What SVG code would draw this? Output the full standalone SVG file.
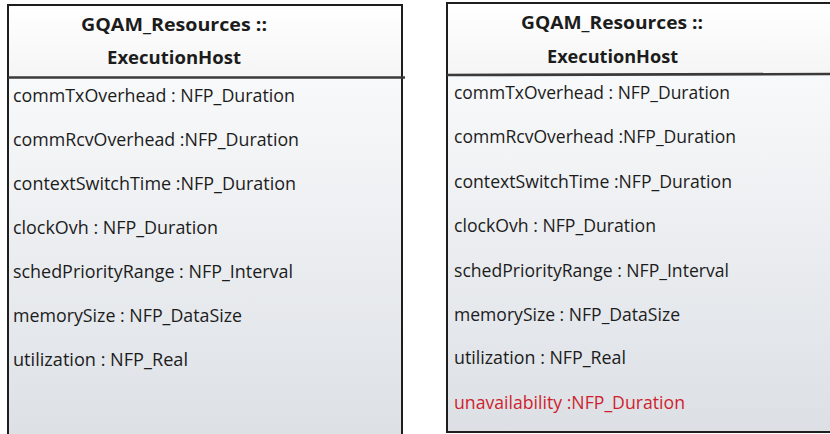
<svg xmlns="http://www.w3.org/2000/svg" width="830" height="434" viewBox="0 0 830 434">
  <defs>
    <linearGradient id="bodyFill" x1="0" y1="0" x2="0" y2="1">
      <stop offset="0" stop-color="#f8f9fa"/>
      <stop offset="1" stop-color="#dce0e5"/>
    </linearGradient>
    <linearGradient id="headFill" x1="0" y1="0" x2="0" y2="1">
      <stop offset="0" stop-color="#ffffff"/>
      <stop offset="1" stop-color="#f5f5f5"/>
    </linearGradient>
    <style>
      .frame { fill: none; stroke: #1e1e1e; stroke-width: 2; }
      .body { fill: url(#bodyFill); }
      .head { fill: url(#headFill); }
      .divider { stroke: #3a3a3a; stroke-width: 2.6; }
      .title { font-family: "Open Sans", "Noto Sans", "Liberation Sans", sans-serif; font-weight: bold; font-size: 18px; fill: #1c1c1c; text-anchor: start; }
      .attr { font-family: "Open Sans", "Noto Sans", "Liberation Sans", sans-serif; font-size: 18px; fill: #1c1c1c; }
      .added { fill: #cf1f2e; }
    </style>
  </defs>

  <rect width="830" height="434" fill="#ffffff"/>

  <!-- class box: original ExecutionHost -->
  <g id="execution-host-original">
    <rect class="head" x="8" y="5" width="394" height="72"/>
    <rect class="body" x="8" y="77" width="394" height="370"/>
    <rect class="frame" x="8" y="5" width="394" height="445"/>
    <line class="divider" x1="8" y1="77.5" x2="405" y2="77.5"/>
    <text class="title" x="81" y="31" textLength="186" lengthAdjust="spacingAndGlyphs">GQAM_Resources ::</text>
    <text class="title" x="107" y="64" textLength="134" lengthAdjust="spacingAndGlyphs">ExecutionHost</text>
    <text class="attr" x="13" y="102" textLength="282" lengthAdjust="spacingAndGlyphs">commTxOverhead : NFP_Duration</text>
    <text class="attr" x="13" y="146" textLength="286" lengthAdjust="spacingAndGlyphs">commRcvOverhead :NFP_Duration</text>
    <text class="attr" x="13" y="190" textLength="283" lengthAdjust="spacingAndGlyphs">contextSwitchTime :NFP_Duration</text>
    <text class="attr" x="13" y="234" textLength="205" lengthAdjust="spacingAndGlyphs">clockOvh : NFP_Duration</text>
    <text class="attr" x="13" y="278" textLength="280" lengthAdjust="spacingAndGlyphs">schedPriorityRange : NFP_Interval</text>
    <text class="attr" x="13" y="322" textLength="229" lengthAdjust="spacingAndGlyphs">memorySize : NFP_DataSize</text>
    <text class="attr" x="13" y="366" textLength="175" lengthAdjust="spacingAndGlyphs">utilization : NFP_Real</text>
  </g>

  <!-- class box: extended ExecutionHost with the added attribute -->
  <g id="execution-host-extended">
    <rect class="head" x="447" y="3" width="390" height="72"/>
    <rect class="body" x="447" y="75" width="390" height="357"/>
    <rect class="frame" x="447" y="3" width="400" height="429"/>
    <line class="divider" x1="447" y1="75" x2="830" y2="74"/>
    <text class="title" x="521" y="29" textLength="182" lengthAdjust="spacingAndGlyphs">GQAM_Resources ::</text>
    <text class="title" x="547" y="63" textLength="131" lengthAdjust="spacingAndGlyphs">ExecutionHost</text>
    <text class="attr" x="454" y="99" textLength="276" lengthAdjust="spacingAndGlyphs">commTxOverhead : NFP_Duration</text>
    <text class="attr" x="454" y="143" textLength="282" lengthAdjust="spacingAndGlyphs">commRcvOverhead :NFP_Duration</text>
    <text class="attr" x="454" y="188" textLength="278" lengthAdjust="spacingAndGlyphs">contextSwitchTime :NFP_Duration</text>
    <text class="attr" x="454" y="232" textLength="202" lengthAdjust="spacingAndGlyphs">clockOvh : NFP_Duration</text>
    <text class="attr" x="454" y="277" textLength="275" lengthAdjust="spacingAndGlyphs">schedPriorityRange : NFP_Interval</text>
    <text class="attr" x="454" y="321" textLength="226" lengthAdjust="spacingAndGlyphs">memorySize : NFP_DataSize</text>
    <text class="attr" x="454" y="364" textLength="172" lengthAdjust="spacingAndGlyphs">utilization : NFP_Real</text>
    <text class="attr added" x="454" y="409" textLength="231" lengthAdjust="spacingAndGlyphs">unavailability :NFP_Duration</text>
  </g>

  <!-- no connectors between the two boxes -->
  <g id="connectors"/>
</svg>
